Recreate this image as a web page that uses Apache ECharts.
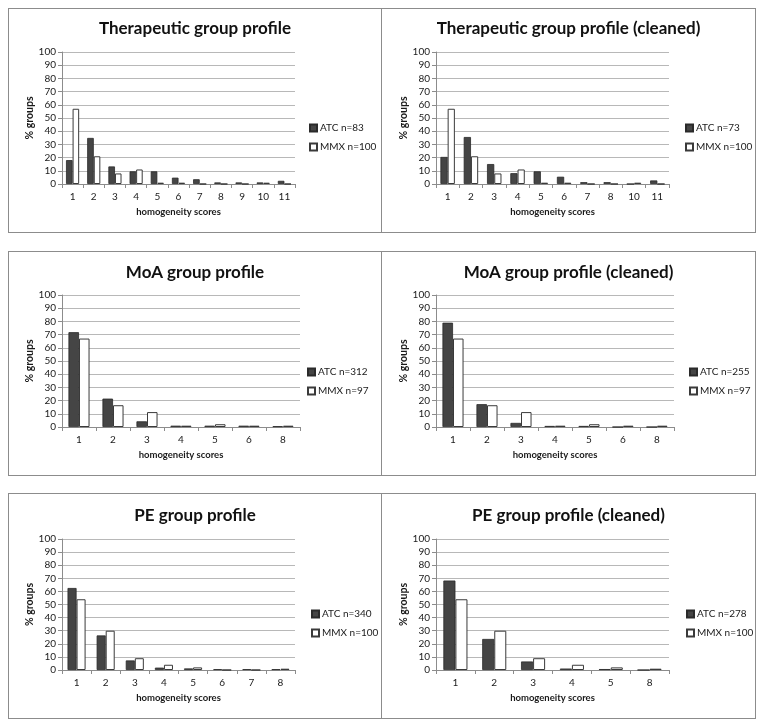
<!DOCTYPE html>
<html>
<head>
<meta charset="utf-8">
<script src="https://cdn.jsdelivr.net/npm/echarts@6/dist/echarts.min.js"></script>
<style>
  html, body { margin: 0; padding: 0; background: #ffffff; }
  body { width: 764px; height: 727px; position: relative; overflow: hidden; }
  .panel { position: absolute; box-sizing: border-box; border: 1px solid #8c8c8c; background: #fff; }
</style>
</head>
<body>
<div id="p1" class="panel" style="left:8px;top:8px;width:374px;height:225px;"></div>
<div id="p2" class="panel" style="left:381px;top:8px;width:375px;height:225px;"></div>
<div id="p3" class="panel" style="left:8px;top:251px;width:374px;height:225px;"></div>
<div id="p4" class="panel" style="left:381px;top:251px;width:375px;height:225px;"></div>
<div id="p5" class="panel" style="left:8px;top:493px;width:374px;height:226px;"></div>
<div id="p6" class="panel" style="left:381px;top:493px;width:375px;height:226px;"></div>
<script>
// ---- data ----
const yTicks = [0, 10, 20, 30, 40, 50, 60, 70, 80, 90, 100];

const titles = [
  'Therapeutic group profile',
  'Therapeutic group profile (cleaned)',
  'MoA group profile',
  'MoA group profile (cleaned)',
  'PE group profile',
  'PE group profile (cleaned)'
];
const atcNames = ['ATC n=83', 'ATC n=73', 'ATC n=312', 'ATC n=255', 'ATC n=340', 'ATC n=278'];
const mmxNames = ['MMX n=100', 'MMX n=100', 'MMX n=97', 'MMX n=97', 'MMX n=100', 'MMX n=100'];

const cats1 = ['1', '2', '3', '4', '5', '6', '7', '8', '9', '10', '11'];
const atc1  = [18.1, 34.9, 13.3, 9.6, 9.6, 4.8, 3.6, 1.2, 1.2, 1.2, 2.4];
const mmx1  = [57, 21, 8, 11, 1, 1, 0, 0, 0, 1, 0];

const cats2 = ['1', '2', '3', '4', '5', '6', '7', '8', '10', '11'];
const atc2  = [20.5, 35.6, 15.1, 8.2, 9.6, 5.5, 1.4, 1.4, 0, 2.7];
const mmx2  = [57, 21, 8, 11, 1, 1, 0, 0, 1, 0];

const cats3 = ['1', '2', '3', '4', '5', '6', '8'];
const atc3  = [71.8, 21.5, 4.3, 1.0, 1.0, 1.0, 0.6];
const mmx3  = [67.0, 16.5, 11.3, 1.0, 2.1, 1.0, 1.0];

const cats4 = ['1', '2', '3', '4', '5', '6', '8'];
const atc4  = [79.0, 17.3, 3.1, 0.8, 0.8, 0, 0];
const mmx4  = [67.0, 16.5, 11.3, 1.0, 2.1, 1.0, 1.0];

const cats5 = ['1', '2', '3', '4', '5', '6', '7', '8'];
const atc5  = [62.6, 26.4, 7.3, 1.8, 1.2, 0.6, 0.6, 0.6];
const mmx5  = [54, 30, 9, 4, 2, 0, 0, 1];

const cats6 = ['1', '2', '3', '4', '5', '8'];
const atc6  = [68.3, 23.7, 6.5, 1.1, 0.7, 0];
const mmx6  = [54, 30, 9, 4, 2, 1];

// ---- layout per panel ----
const layouts = [
  { left: 53, right: 86, top: 43, bottom: 48, legLeft: 300, legTop: 113, titleTop: 6 },
  { left: 54, right: 86, top: 43, bottom: 48, legLeft: 303, legTop: 113, titleTop: 6 },
  { left: 53, right: 81, top: 43, bottom: 48, legLeft: 298, legTop: 114, titleTop: 7 },
  { left: 54, right: 81, top: 43, bottom: 48, legLeft: 307, legTop: 114, titleTop: 7 },
  { left: 53, right: 86, top: 45, bottom: 48, legLeft: 302, legTop: 114, titleTop: 8 },
  { left: 54, right: 86, top: 45, bottom: 48, legLeft: 304, legTop: 114, titleTop: 8 }
];

const allCats = [cats1, cats2, cats3, cats4, cats5, cats6];
const allAtc = [atc1, atc2, atc3, atc4, atc5, atc6];
const allMmx = [mmx1, mmx2, mmx3, mmx4, mmx5, mmx6];

const FONT = 'Lato, "Open Sans", sans-serif';
const TXT = '#1a1a1a';

function makeOption(i) {
  const L = layouts[i];
  return {
    animation: false,
    backgroundColor: '#ffffff',
    textStyle: { fontFamily: FONT },
    title: {
      text: titles[i],
      left: 'center',
      top: L.titleTop,
      textStyle: { fontFamily: FONT, fontSize: 17, fontWeight: 'bold', color: '#111' }
    },
    legend: {
      orient: 'vertical',
      left: L.legLeft,
      top: L.legTop,
      padding: 0,
      itemWidth: 7,
      itemHeight: 7,
      itemGap: 7,
      icon: 'rect',
      textStyle: { fontFamily: FONT, fontSize: 10, color: TXT, lineHeight: 12, padding: [0, 0, 0, -2] },
      data: [atcNames[i], mmxNames[i]]
    },
    grid: { left: L.left, right: L.right, top: L.top, bottom: L.bottom, containLabel: false },
    xAxis: {
      type: 'category',
      data: allCats[i],
      name: 'homogeneity scores',
      nameLocation: 'middle',
      nameGap: 23,
      nameMoveOverlap: false,
      nameTextStyle: { fontFamily: FONT, fontSize: 9.5, fontWeight: 'bold', color: TXT },
      axisLine: { show: true, lineStyle: { color: '#8c8c8c', width: 1 } },
      axisTick: { show: true, length: 4, lineStyle: { color: '#8c8c8c' } },
      axisLabel: { fontFamily: FONT, fontSize: 10, color: TXT, margin: 8 },
      splitLine: { show: false }
    },
    yAxis: {
      type: 'value',
      min: yTicks[0],
      max: yTicks[yTicks.length - 1],
      interval: yTicks[1] - yTicks[0],
      name: '% groups',
      nameLocation: 'middle',
      nameRotate: 90,
      nameGap: 27,
      nameMoveOverlap: false,
      nameTextStyle: { fontFamily: FONT, fontSize: 10.5, fontWeight: 'bold', color: TXT },
      axisLine: { show: true, lineStyle: { color: '#8c8c8c', width: 1 } },
      axisTick: { show: true, length: 4, lineStyle: { color: '#8c8c8c' } },
      axisLabel: { fontFamily: FONT, fontSize: 10, color: TXT, margin: 6 },
      splitLine: { show: true, lineStyle: { color: '#b8b8b8', width: 1 } }
    },
    series: [
      {
        name: atcNames[i],
        type: 'bar',
        data: allAtc[i],
        barGap: '0%',
        barCategoryGap: '38%',
        itemStyle: { color: '#454545', borderColor: '#2a2a2a', borderWidth: 0.8 }
      },
      {
        name: mmxNames[i],
        type: 'bar',
        data: allMmx[i],
        barGap: '0%',
        barCategoryGap: '38%',
        itemStyle: { color: '#ffffff', borderColor: '#3a3a3a', borderWidth: 1 }
      }
    ]
  };
}

for (let i = 0; i < 6; i++) {
  const el = document.getElementById('p' + (i + 1));
  const chart = echarts.init(el, null, { renderer: 'canvas' });
  chart.setOption(makeOption(i));
}
</script>
</body>
</html>
